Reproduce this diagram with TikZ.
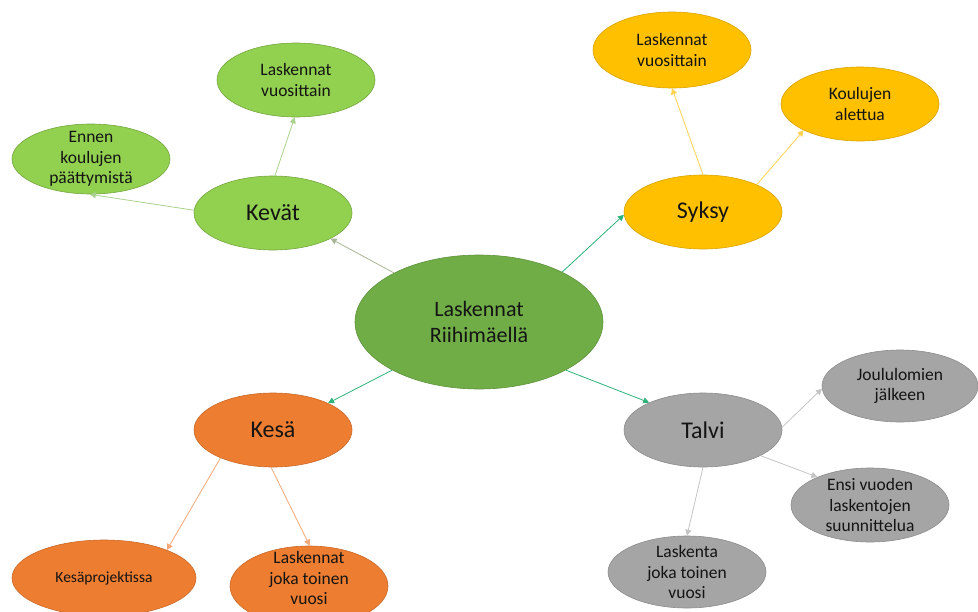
\documentclass[tikz,border=0pt]{standalone}
\usepackage{fontspec}
\setmainfont{Carlito}
\usetikzlibrary{shapes.geometric,arrows.meta}
\definecolor{cgreen}{HTML}{92D050}
\definecolor{ccentral}{HTML}{70AD47}
\definecolor{cyellow}{HTML}{FFC000}
\definecolor{corange}{HTML}{ED7D31}
\definecolor{cgrey}{HTML}{A5A5A5}
\definecolor{agreen}{HTML}{A9D18E}
\definecolor{aolive}{HTML}{A8B594}
\definecolor{ateal}{HTML}{2DB37A}
\definecolor{ayellow}{HTML}{FFD24D}
\definecolor{aorange}{HTML}{F4A878}
\definecolor{agrey}{HTML}{C4C4C4}
\definecolor{ctext}{HTML}{141414}
\tikzset{
  ell/.style={ellipse, inner sep=0pt, minimum width=158pt, minimum height=74pt, line width=0.6pt},
  gell/.style={ell, fill=cgreen, draw=cgreen!80!black},
  yell/.style={ell, fill=cyellow, draw=cyellow!85!black},
  oell/.style={ell, fill=corange, draw=corange!85!black},
  rell/.style={ell, fill=cgrey, draw=cgrey!85!black},
  small/.style={text=ctext, align=center, font=\fontsize{17.5}{20.5}\selectfont},
  big/.style={text=ctext, align=center, font=\fontsize{24}{28}\selectfont},
  mid/.style={text=ctext, align=center, font=\fontsize{22}{25.5}\selectfont},
  conn/.style={line width=0.8pt, -{Triangle[length=6pt,width=6pt]}},
}
\begin{document}
\begin{tikzpicture}[x=1pt,y=-1pt]
\useasboundingbox (0,0) rectangle (978,611);
\clip (0,0) rectangle (978,611);
% nodes
\node[ell, fill=ccentral, draw=ccentral!85!black, minimum width=248pt, minimum height=134pt] (central) at (479,322) {};
\node[mid] (central-t) at (central) {Laskennat\\Riihimäellä};

\node[gell] (kevat) at (273,213) {};
\node[big] (kevat-t) at (kevat) {Kevät};
\node[gell] (klv) at (296,80) {};
\node[small] (klv-t) at (klv) {Laskennat\\vuosittain};
\node[gell, minimum height=70pt] (ennen) at (91,159) {};
\node[small] (ennen-t) at (ennen) {Ennen\\koulujen\\päättymistä};

\node[yell] (syksy) at (703,212) {};
\node[big] (syksy-t) at (syksy) {Syksy};
\node[yell, minimum height=76pt] (slv) at (672,50) {};
\node[small] (slv-t) at (slv) {Laskennat\\vuosittain};
\node[yell] (koul) at (860,104) {};
\node[small] (koul-t) at (koul) {Koulujen\\alettua};

\node[oell] (kesa) at (273,430) {};
\node[big] (kesa-t) at (kesa) {Kesä};
\node[oell, minimum width=184pt, minimum height=76pt] (kproj) at (104,578) {};
\node[small, font=\fontsize{15.5}{19}\selectfont] (kproj-t) at (kproj) {Kesäprojektissa};
\node[oell, minimum height=80pt] (klj) at (309,586) {};
\node[small] (klj-t) at ([yshift=8pt]klj.center) {Laskennat\\joka toinen\\vuosi};

\node[rell] (talvi) at (703,430) {};
\node[big] (talvi-t) at (talvi) {Talvi};
\node[rell, minimum width=156pt, minimum height=72pt] (joulu) at (900,386) {};
\node[small] (joulu-t) at (joulu) {Joululomien\\jälkeen};
\node[rell] (ensi) at (870,505) {};
\node[small] (ensi-t) at (ensi) {Ensi vuoden\\laskentojen\\suunnittelua};
\node[rell, minimum height=72pt] (lask) at (687,572) {};
\node[small] (lask-t) at (lask) {Laskenta\\joka toinen\\vuosi};

% connectors
\draw[conn, aolive] (central.150) -- (kevat.336);
\draw[conn, ateal] (central.31) -- (syksy.182);
\draw[conn, ateal] (central.209) -- (kesa.26);
\draw[conn, ateal] (central.331) -- (talvi.153);

\draw[conn, agreen] (kevat.87) -- (klv.268);
\draw[conn, agreen] (kevat.178) -- (ennen.268);

\draw[conn, ayellow] (syksy.90) -- (slv.270);
\draw[conn, ayellow] (syksy.27) -- (koul.205);

\draw[conn, aorange] (kesa.208) -- (kproj.24);
\draw[conn, aorange] (kesa.267) -- (klj.89);

\draw[conn, agrey] (talvi.2) -- (joulu.182);
\draw[conn, agrey] (talvi.336) -- (ensi.152);
\draw[conn, agrey] (talvi.270) -- (lask.90);
\end{tikzpicture}
\end{document}
